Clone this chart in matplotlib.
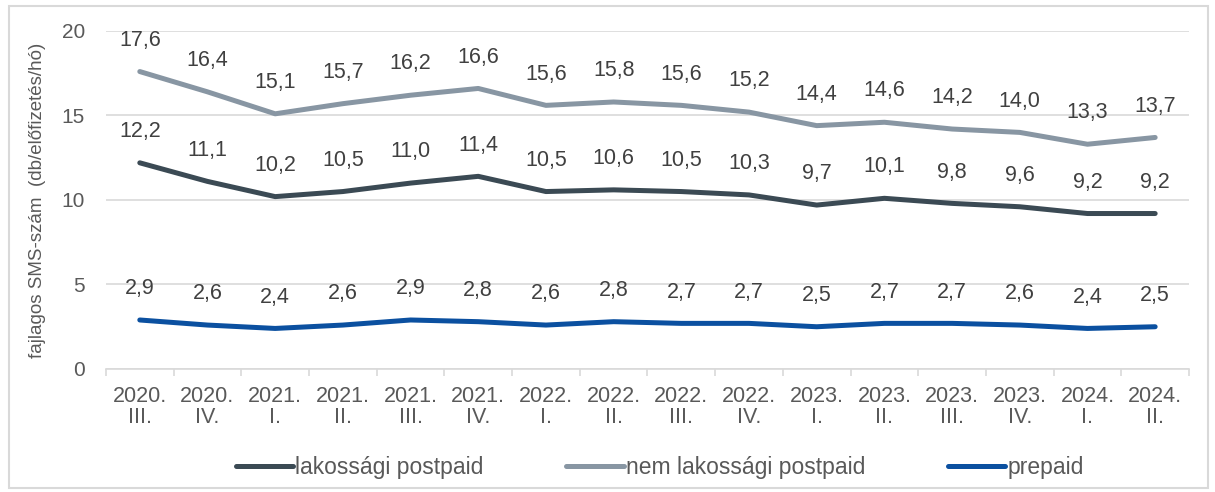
import matplotlib.pyplot as plt
from matplotlib.patches import Rectangle

plt.rcParams['font.family'] = ['Liberation Sans', 'DejaVu Sans']

periods = ["2020.\nIII.", "2020.\nIV.", "2021.\nI.", "2021.\nII.", "2021.\nIII.", "2021.\nIV.",
           "2022.\nI.", "2022.\nII.", "2022.\nIII.", "2022.\nIV.", "2023.\nI.", "2023.\nII.",
           "2023.\nIII.", "2023.\nIV.", "2024.\nI.", "2024.\nII."]
lakossagi = [12.2, 11.1, 10.2, 10.5, 11.0, 11.4, 10.5, 10.6, 10.5, 10.3, 9.7, 10.1, 9.8, 9.6, 9.2, 9.2]
nem_lakossagi = [17.6, 16.4, 15.1, 15.7, 16.2, 16.6, 15.6, 15.8, 15.6, 15.2, 14.4, 14.6, 14.2, 14.0, 13.3, 13.7]
prepaid = [2.9, 2.6, 2.4, 2.6, 2.9, 2.8, 2.6, 2.8, 2.7, 2.7, 2.5, 2.7, 2.7, 2.6, 2.4, 2.5]

series = [
    ("lakossági postpaid", lakossagi, "#3b4a54"),
    ("nem lakossági postpaid", nem_lakossagi, "#8896a3"),
    ("prepaid", prepaid, "#0b50a0"),
]

fig = plt.figure(figsize=(12.15, 4.92), dpi=100)
ax = fig.add_axes([0.0872, 0.25, 0.8914, 0.687])

x = list(range(len(periods)))
for name, vals, col in series:
    ax.plot(x, vals, color=col, lw=3.6, label=name, solid_capstyle='round')
    for xi, v in zip(x, vals):
        ax.annotate(f"{v:.1f}".replace('.', ','), (xi, v), xytext=(0, 15),
                    textcoords='offset points', ha='center', va='bottom',
                    fontsize=15.5, color='#404040')

ax.set_xlim(-0.5, len(periods) - 0.5)
ax.set_ylim(0, 20)
ax.set_yticks([0, 5, 10, 15, 20])
ax.tick_params(axis='y', length=0, labelsize=15, labelcolor='#595959', pad=15)
ax.set_xticks(x)
ax.set_xticklabels(periods, fontsize=15.5, color='#595959', linespacing=1.05)
ax.tick_params(axis='x', length=0, pad=12)
ax.set_xticks([i - 0.5 for i in range(len(periods) + 1)], minor=True)
ax.tick_params(axis='x', which='minor', length=5, color='#d9d9d9', width=1.2)
ax.grid(axis='y', color='#d9d9d9', lw=1.2)
ax.set_axisbelow(True)
for s in ['left', 'right', 'top']:
    ax.spines[s].set_visible(False)
ax.spines['bottom'].set_color('#d9d9d9')
ax.spines['bottom'].set_linewidth(1.2)

ax.set_ylabel("fajlagos SMS-szám  (db/előfizetés/hó)", fontsize=13.5, color='#595959', labelpad=11)

fig.legend(loc='center', bbox_to_anchor=(0.543, 0.05), ncol=3, frameon=False,
           fontsize=16.5, labelcolor='#595959', handlelength=2.5, handletextpad=0.1,
           columnspacing=3.6)

fig.patches.append(Rectangle((0.007, 0.008), 0.987, 0.98, transform=fig.transFigure,
                             fill=False, edgecolor='#d9d9d9', lw=1.5))

fig.savefig("out.png", dpi=100)
